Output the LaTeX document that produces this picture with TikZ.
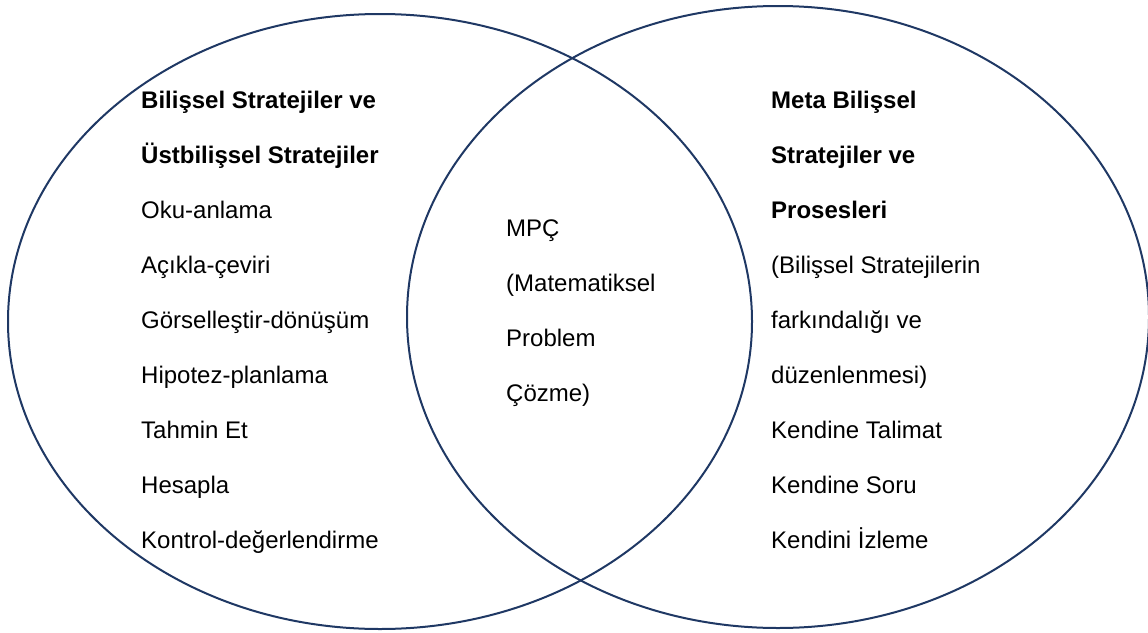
\documentclass[tikz,border=0pt]{standalone}
\usepackage{fontspec}
\setmainfont{Liberation Sans}
\definecolor{vennblue}{RGB}{31,56,100}
\begin{document}
\begin{tikzpicture}[x=1pt,y=-1pt,
  ring/.style={draw=vennblue,line width=2pt},
  txt/.style={anchor=base west,inner sep=0pt,font=\fontsize{24}{28}\selectfont},
  btxt/.style={txt,font=\fontsize{24}{28}\selectfont\bfseries}]
\useasboundingbox (0,0) rectangle (1148,632);
\draw[ring] (380,321.5) ellipse [x radius=372,y radius=307.5];
\draw[ring] (778,317) ellipse [x radius=371,y radius=311];
% left column
\node[btxt] (l1) at (141,108) {Bilişsel Stratejiler ve};
\node[btxt] (l2) at (141,163) {Üstbilişsel Stratejiler};
\node[txt] (l3) at (141,218) {Oku-anlama};
\node[txt] (l4) at (141,273) {Açıkla-çeviri};
\node[txt] (l5) at (141,328) {Görselleştir-dönüşüm};
\node[txt] (l6) at (141,383) {Hipotez-planlama};
\node[txt] (l7) at (141,438) {Tahmin Et};
\node[txt] (l8) at (141,493) {Hesapla};
\node[txt] (l9) at (141,548) {Kontrol-değerlendirme};
% center column
\node[txt] (c1) at (506,236) {MPÇ};
\node[txt] (c2) at (506,291) {(Matematiksel};
\node[txt] (c3) at (506,346) {Problem};
\node[txt] (c4) at (506,401) {Çözme)};
% right column
\node[btxt] (r1) at (771,108) {Meta Bilişsel};
\node[btxt] (r2) at (771,163) {Stratejiler ve};
\node[btxt] (r3) at (771,218) {Prosesleri};
\node[txt] (r4) at (771,273) {(Bilişsel Stratejilerin};
\node[txt] (r5) at (771,328) {farkındalığı ve};
\node[txt] (r6) at (771,383) {düzenlenmesi)};
\node[txt] (r7) at (771,438) {Kendine Talimat};
\node[txt] (r8) at (771,493) {Kendine Soru};
\node[txt] (r9) at (771,548) {Kendini İzleme};
\end{tikzpicture}
\end{document}
